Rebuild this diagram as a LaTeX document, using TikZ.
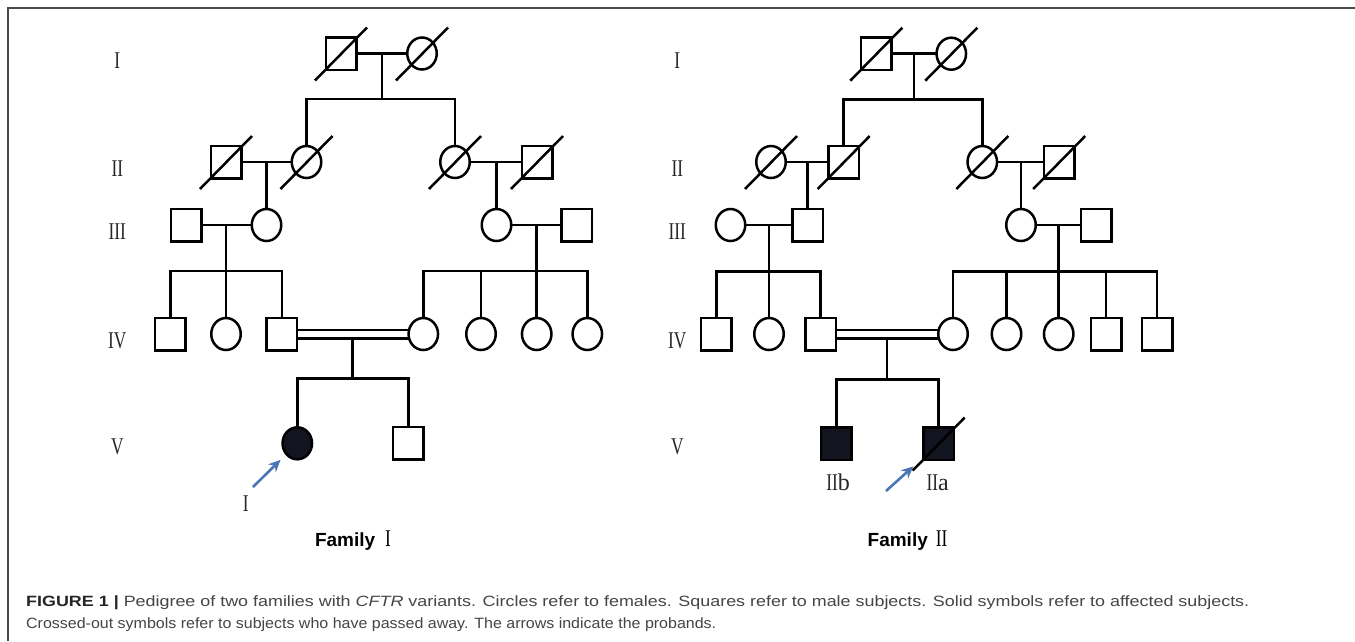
\documentclass[tikz,border=0pt]{standalone}
\usepackage{fontspec}
\setmainfont{Liberation Serif}
\newfontfamily\sansf{Liberation Sans}
\usepackage{graphicx}
\usetikzlibrary{shapes.geometric,calc,arrows.meta,backgrounds}
\definecolor{affc}{HTML}{12151F}
\definecolor{arrc}{HTML}{4A76B4}
\definecolor{framec}{HTML}{4A4A4A}
\definecolor{capc}{HTML}{454545}
\definecolor{capb}{HTML}{262626}
\newcommand{\genl}[1]{\scalebox{0.72}[1]{#1}}
\begin{document}
\begin{tikzpicture}[x=1pt,y=-1pt,
 ln/.style={line width=2.5pt,line cap=rect},
 male/.style={draw,rectangle,line width=2.5pt,minimum width=30.5pt,minimum height=32.5pt,inner sep=0pt,fill=white},
 female/.style={draw,ellipse,line width=2.5pt,minimum width=29.5pt,minimum height=32pt,inner sep=0pt,fill=white},
 aff/.style={fill=affc},
 gen/.style={font=\fontsize{24}{24}\selectfont,inner sep=0pt,text=black!85,anchor=base},
 fam/.style={inner sep=0pt,anchor=base},
 prob/.style={draw=arrc,line width=2.6pt,-{Stealth[length=12pt,width=11pt,inset=4pt]}},
 cross/.style={line width=2.5pt}
]
\useasboundingbox (0,0) rectangle (1355,641);

% ---------------- Family I ----------------
\node[male]   (a11) at (341,53.5) {};
\node[female] (a12) at (422,53.5) {};
\node[male]   (a21) at (226,162) {};
\node[female] (a22) at (306.5,162) {};
\node[female] (a23) at (455,162) {};
\node[male]   (a24) at (537,162) {};
\node[male]   (a31) at (186,225) {};
\node[female] (a32) at (266.5,225) {};
\node[female] (a33) at (496.5,225) {};
\node[male]   (a34) at (576.5,225) {};
\node[male]   (a41) at (170.3,334) {};
\node[female] (a42) at (226,334) {};
\node[male]   (a43) at (281.8,334) {};
\node[female] (a44) at (423.3,334) {};
\node[female] (a45) at (481,334) {};
\node[female] (a46) at (536.7,334) {};
\node[female] (a47) at (587.3,334) {};
\node[female,aff] (a51) at (297.3,443.3) {};
\node[male]   (a52) at (408.3,443.3) {};

% ---------------- Family II ----------------
\node[male]   (b11) at (876.3,53.7) {};
\node[female] (b12) at (951.3,53.7) {};
\node[female] (b21) at (771,162) {};
\node[male]   (b22) at (843.7,162) {};
\node[female] (b23) at (982.3,162) {};
\node[male]   (b24) at (1059.2,162) {};
\node[female] (b31) at (730.5,225) {};
\node[male]   (b32) at (807.5,225) {};
\node[female] (b33) at (1021,225) {};
\node[male]   (b34) at (1096.2,225) {};
\node[male]   (b41) at (716.3,334) {};
\node[female] (b42) at (769,334) {};
\node[male]   (b43) at (820.7,334) {};
\node[female] (b44) at (953,334) {};
\node[female] (b45) at (1006.5,334) {};
\node[female] (b46) at (1058.7,334) {};
\node[male]   (b47) at (1106,334) {};
\node[male]   (b48) at (1157.2,334) {};
\node[male,aff] (b51) at (836.3,443.5) {};
\node[male,aff] (b52) at (938.7,443.5) {};

\begin{pgfonlayer}{background}
 \fill[white] (0,0) rectangle (1355,641);
 \draw[framec,line width=1.6pt] (8,641) -- (8,8) -- (1355,8);
 % Family I
 \draw[ln] (a11.center) -- (a12.center);
 \coordinate (a1m) at ($(a11.east)!0.5!(a12.west)$);
 \coordinate (a1s) at (a1m |- 0,99);
 \draw[ln] (a1m) -- (a1s);
 \draw[ln] (a22.center) |- (a1s) -| (a23.center);
 \draw[ln] (a21.center) -- (a22.center);
 \draw[ln] (a32.center) -- (a32 |- a21);
 \draw[ln] (a23.center) -- (a24.center);
 \draw[ln] (a33.center) -- (a33 |- a23);
 \draw[ln] (a31.center) -- (a32.center);
 \draw[ln] (a42.center) -- (a42 |- a31);
 \draw[ln] (a41.center) |- (a42 |- 0,271) -| (a43.center);
 \draw[ln] (a33.center) -- (a34.center);
 \draw[ln] (a46.center) -- (a46 |- a33);
 \draw[ln] (a44.center) |- (a46 |- 0,271) -| (a47.center);
 \draw[ln] (a45.center) -- (a45 |- 0,271);
 \draw[ln,line cap=butt,double,double distance=6pt] (a43.center) -- (a44.center);
 \coordinate (a4m) at ($(a43.center)!0.5!(a44.center)$);
 \coordinate (a5s) at (a4m |- 0,378.3);
 \draw[ln] ($(a4m)+(0,4.2)$) -- (a5s);
 \draw[ln] (a51.center) |- (a5s) -| (a52.center);
 % Family II
 \draw[ln] (b11.center) -- (b12.center);
 \coordinate (b1m) at ($(b11.east)!0.5!(b12.west)$);
 \coordinate (b1s) at (b1m |- 0,99.3);
 \draw[ln] (b1m) -- (b1s);
 \draw[ln] (b22.center) |- (b1s) -| (b23.center);
 \draw[ln] (b21.center) -- (b22.center);
 \draw[ln] (b32.center) -- (b32 |- b21);
 \draw[ln] (b23.center) -- (b24.center);
 \draw[ln] (b33.center) -- (b33 |- b23);
 \draw[ln] (b31.center) -- (b32.center);
 \draw[ln] (b42.center) -- (b42 |- b31);
 \draw[ln] (b41.center) |- (b42 |- 0,271.7) -| (b43.center);
 \draw[ln] (b33.center) -- (b34.center);
 \draw[ln] (b46.center) -- (b46 |- b33);
 \draw[ln] (b44.center) |- (b46 |- 0,271.7) -| (b48.center);
 \draw[ln] (b45.center) -- (b45 |- 0,271.7);
 \draw[ln] (b47.center) -- (b47 |- 0,271.7);
 \draw[ln,line cap=butt,double,double distance=6pt] (b43.center) -- (b44.center);
 \coordinate (b4m) at ($(b43.center)!0.5!(b44.center)$);
 \coordinate (b5s) at (b4m |- 0,379.3);
 \draw[ln] ($(b4m)+(0,4.2)$) -- (b5s);
 \draw[ln] (b51.center) |- (b5s) -| (b52.center);
\end{pgfonlayer}

% deceased marks
\foreach \n in {a11,a12,a21,a22,a23,a24,b11,b12,b21,b22,b23,b24,b52}{
 \draw[cross] ($(\n)+(-26,27)$) -- ($(\n)+(26,-26)$);
}

% generation labels
\node[gen] (ga1) at (117.3,68) {\genl{I}};
\node[gen] (ga2) at (117.3,176.5) {\genl{II}};
\node[gen] (ga3) at (117.3,239) {\genl{III}};
\node[gen] (ga4) at (117.3,348) {\genl{IV}};
\node[gen] (ga5) at (117.3,454) {\genl{V}};
\node[gen] (gb1) at (677.3,68) {\genl{I}};
\node[gen] (gb2) at (677.3,176.5) {\genl{II}};
\node[gen] (gb3) at (677.3,239) {\genl{III}};
\node[gen] (gb4) at (677.3,348) {\genl{IV}};
\node[gen] (gb5) at (677.3,454) {\genl{V}};

% probands
\coordinate (pa1) at (253,487);
\draw[prob,shorten >=7pt] (pa1) -- (a51);
\node[gen] (la1) at (245.7,511.5) {\genl{I}};
\coordinate (pb1) at (886,491);
\draw[prob,shorten >=12pt] (pb1) -- (b52);
\node[gen] (lb1) at (838,490) {\genl{II}b};
\node[gen] (lb2) at (937.8,490) {\genl{II}a};

% family titles
\node[fam] (famI) at (353,546.5) {{\sansf\bfseries\fontsize{19}{19}\selectfont Family}\hspace{10pt}{\fontsize{24}{24}\selectfont\genl{I}}};
\node[fam] (famII) at (907.5,546.5) {{\sansf\bfseries\fontsize{19}{19}\selectfont Family}\hspace{8pt}{\fontsize{24}{24}\selectfont\genl{II}}};

% caption
\node[anchor=base west,inner sep=0pt] (cap1) at (26,606) {\resizebox{1223pt}{10.8pt}{\sansf\fontsize{15}{15}\selectfont\textcolor{capb}{\bfseries FIGURE 1 |} \textcolor{capc}{Pedigree of two families with \textit{CFTR} variants. Circles refer to females. Squares refer to male subjects. Solid symbols refer to affected subjects.}}};
\node[anchor=base west,inner sep=0pt] (cap2) at (26,628.3) {\resizebox{690pt}{10.8pt}{\sansf\fontsize{15}{15}\selectfont\color{capc}Crossed-out symbols refer to subjects who have passed away. The arrows indicate the probands.}};
\end{tikzpicture}
\end{document}
